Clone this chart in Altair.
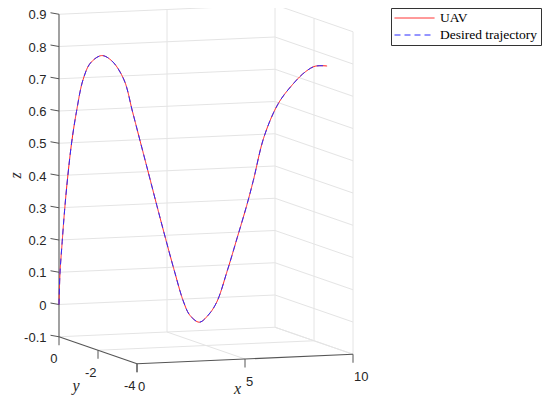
import altair as alt
import pandas as pd

# ---------------- data ----------------
uav_x = [0.0, 0.037, 0.119, 0.209, 0.313, 0.470, 0.653, 0.896, 1.175, 1.593, 1.978,
         2.425, 2.743, 3.045, 3.373, 3.649, 3.959, 4.299, 4.649, 4.888, 5.235, 5.560,
         5.884, 6.280, 6.653, 7.004, 7.250, 7.649, 8.183, 8.743, 9.179, 9.552, 10.0]
uav_y = [0.0, -0.010, -0.032, -0.056, -0.084, -0.125, -0.174, -0.239, -0.314, -0.425,
         -0.528, -0.647, -0.732, -0.813, -0.901, -0.974, -1.057, -1.148, -1.241, -1.305,
         -1.398, -1.484, -1.571, -1.677, -1.776, -1.870, -1.936, -2.042, -2.185, -2.334,
         -2.451, -2.550, -2.670]
uav_z = [0.0, 0.097, 0.195, 0.293, 0.387, 0.502, 0.600, 0.699, 0.752, 0.776, 0.760,
         0.703, 0.605, 0.509, 0.405, 0.317, 0.220, 0.117, 0.020, -0.021, -0.041, -0.019,
         0.023, 0.122, 0.226, 0.326, 0.404, 0.540, 0.645, 0.708, 0.745, 0.764, 0.766]

des_x = [0.0, 0.037, 0.119, 0.209, 0.313, 0.470, 0.653, 0.896, 1.175, 1.593, 1.978,
         2.425, 2.743, 3.045, 3.373, 3.649, 3.959, 4.299, 4.649, 4.888, 5.235, 5.560,
         5.884, 6.280, 6.653, 7.004, 7.250, 7.649, 8.183, 8.743, 9.179, 9.552, 10.0]
des_y = [0.0, -0.010, -0.032, -0.056, -0.084, -0.125, -0.174, -0.239, -0.314, -0.425,
         -0.528, -0.647, -0.732, -0.813, -0.901, -0.974, -1.057, -1.148, -1.241, -1.305,
         -1.398, -1.484, -1.571, -1.677, -1.776, -1.870, -1.936, -2.042, -2.185, -2.334,
         -2.451, -2.550, -2.670]
des_z = [0.0, 0.097, 0.195, 0.293, 0.387, 0.502, 0.600, 0.699, 0.752, 0.776, 0.760,
         0.703, 0.605, 0.509, 0.405, 0.317, 0.220, 0.117, 0.020, -0.021, -0.041, -0.019,
         0.023, 0.122, 0.226, 0.326, 0.404, 0.540, 0.645, 0.708, 0.745, 0.764, 0.766]

series_names = ["UAV", "Desired trajectory"]
series_colors = ["#ff1a1a", "#2b2bff"]

z_ticks = [-0.1, 0.0, 0.1, 0.2, 0.3, 0.4, 0.5, 0.6, 0.7, 0.8, 0.9]
z_labels = ["-0.1", "0", "0.1", "0.2", "0.3", "0.4", "0.5", "0.6", "0.7", "0.8", "0.9"]
x_ticks = [0, 5, 10]
x_labels = ["0", "5", "10"]
y_ticks = [0, -2, -4]
y_labels = ["0", "-2", "-4"]
x_lim = (0, 10)
y_lim = (-4, 0)
z_lim = (-0.1, 0.9)

# ---------------- view (orthographic 3-D projection) ----------------
W, H = 534, 390
OX, OY = 51.0, 296.5           # screen position of (0, 0, 0)
EX = (21.6, -0.95)             # screen step per unit x
EY = (-19.5, -6.75)            # screen step per unit y
EZ = (0.0, -322.5)             # screen step per unit z


def proj(x, y, z):
    return (OX + EX[0] * x + EY[0] * y + EZ[0] * z,
            OY + EX[1] * x + EY[1] * y + EZ[1] * z)


def seg(p1, p2, d2=None):
    a = proj(*p1)
    b = proj(*p2) if d2 is None else (a[0] + d2[0], a[1] + d2[1])
    return {"sx": a[0], "sy": a[1], "sx2": b[0], "sy2": b[1]}


zmin, zmax = z_lim
xmin, xmax = x_lim
ymin, ymax = y_lim

grid = []
for z in z_ticks:
    grid.append(seg((xmin, ymax, z), (xmax, ymax, z)))
    grid.append(seg((xmax, ymax, z), (xmax, ymin, z)))
for x in x_ticks[1:]:
    grid.append(seg((x, ymax, zmin), (x, ymax, zmax)))
    grid.append(seg((x, ymax, zmin), (x, ymin, zmin)))
for y in y_ticks[1:]:
    grid.append(seg((xmax, y, zmin), (xmax, y, zmax)))
for y in y_ticks[1:-1]:
    grid.append(seg((xmin, y, zmin), (xmax, y, zmin)))
grid_df = pd.DataFrame(grid)

axes_df = pd.DataFrame([
    seg((xmin, ymax, zmin), (xmin, ymax, zmax)),
    seg((xmin, ymax, zmin), (xmin, ymin, zmin)),
    seg((xmin, ymin, zmin), (xmax, ymin, zmin)),
])

ticks = []
for z in z_ticks:
    ticks.append(seg((xmin, ymax, z), None, (-8.5, -1.5)))
for y in y_ticks:
    ticks.append(seg((xmin, y, zmin), None, (0, 8.5)))
for x in x_ticks:
    ticks.append(seg((x, ymin, zmin), None, (0, 8.5)))
ticks_df = pd.DataFrame(ticks)


def lab(points, labels):
    rows = []
    for p, t in zip(points, labels):
        sx, sy = proj(*p)
        rows.append({"sx": sx, "sy": sy, "t": t})
    return pd.DataFrame(rows)


zlab_df = lab([(xmin, ymax, z) for z in z_ticks], z_labels)
ylab_df = lab([(xmin, y, zmin) for y in y_ticks], y_labels)
xlab_df = lab([(x, ymin, zmin) for x in x_ticks], x_labels)

xt = proj(5, ymin, zmin)
yt = proj(xmin, -2, zmin)
zt = proj(xmin, ymax, 0.4)
title_df = pd.DataFrame([
    {"sx": xt[0] - 7.5, "sy": xt[1] + 35, "t": "x"},
    {"sx": yt[0] - 22, "sy": yt[1] + 41, "t": "y"},
])
ztitle_df = pd.DataFrame([{"sx": zt[0] - 43, "sy": zt[1], "t": "z"}])


def traj(xs, ys, zs, name):
    rows = []
    for i, (x, y, z) in enumerate(zip(xs, ys, zs)):
        sx, sy = proj(x, y, z)
        rows.append({"sx": sx, "sy": sy, "series": name, "i": i})
    return pd.DataFrame(rows)


uav_df = traj(uav_x, uav_y, uav_z, series_names[0])
des_df = traj(des_x, des_y, des_z, series_names[1])

# ---------------- chart ----------------
xs = alt.Scale(domain=[0, W], nice=False, zero=False)
ys = alt.Scale(domain=[0, H], nice=False, zero=False, reverse=True)
X = alt.X("sx:Q", scale=xs, axis=None)
Y = alt.Y("sy:Q", scale=ys, axis=None)

grid_layer = alt.Chart(grid_df).mark_rule(color="#e4e4e4", strokeWidth=1).encode(
    x=X, y=Y, x2="sx2:Q", y2="sy2:Q")
axes_layer = alt.Chart(axes_df).mark_rule(color="#555555", strokeWidth=1.1).encode(
    x=X, y=Y, x2="sx2:Q", y2="sy2:Q")
ticks_layer = alt.Chart(ticks_df).mark_rule(color="#555555", strokeWidth=1).encode(
    x=X, y=Y, x2="sx2:Q", y2="sy2:Q")

tick_font = dict(font="Liberation Sans", fontSize=13, color="#262626")
zlab = alt.Chart(zlab_df).mark_text(align="right", baseline="middle", dx=-12.5, dy=1,
                                    **tick_font).encode(x=X, y=Y, text="t:N")
ylab = alt.Chart(ylab_df).mark_text(align="right", baseline="middle", dx=-1.5, dy=22.5,
                                    **tick_font).encode(x=X, y=Y, text="t:N")
xlab = alt.Chart(xlab_df).mark_text(align="left", baseline="middle", dx=1, dy=23,
                                    **tick_font).encode(x=X, y=Y, text="t:N")

title_font = dict(font="Liberation Serif", fontStyle="italic", fontSize=16, color="#262626")
titles = alt.Chart(title_df).mark_text(align="center", baseline="alphabetic",
                                       **title_font).encode(x=X, y=Y, text="t:N")
ztitle = alt.Chart(ztitle_df).mark_text(align="center", baseline="middle", angle=270,
                                        **title_font).encode(x=X, y=Y, text="t:N")

legend = alt.Legend(title=None, orient="none", legendX=383, legendY=0, direction="vertical",
                    symbolType="stroke", symbolSize=1600, symbolStrokeWidth=1,
                    clipHeight=14, rowPadding=3, padding=3, labelOffset=5,
                    labelFont="Liberation Serif", labelFontSize=13.5, labelColor="#000000",
                    strokeColor="#333333", fillColor="#ffffff")
color = alt.Color("series:N", scale=alt.Scale(domain=series_names, range=series_colors),
                  legend=legend)
dash = alt.StrokeDash("series:N", scale=alt.Scale(domain=series_names, range=[[1, 0], [6, 4]]),
                      legend=legend)

uav_layer = alt.Chart(uav_df).mark_line(strokeWidth=1, interpolate="catmull-rom").encode(
    x=X, y=Y, color=color, strokeDash=dash, order="i:Q")
des_layer = alt.Chart(des_df).mark_line(strokeWidth=1, interpolate="catmull-rom").encode(
    x=X, y=Y, color=color, strokeDash=dash, order="i:Q")

chart = alt.layer(grid_layer, axes_layer, ticks_layer, zlab, ylab, xlab, titles, ztitle,
                  uav_layer, des_layer).properties(
    width=W, height=H, padding=0, autosize="none", background="white"
).configure_view(strokeWidth=0)

chart.save("out.html", embed_options={"renderer": "svg", "actions": False})
